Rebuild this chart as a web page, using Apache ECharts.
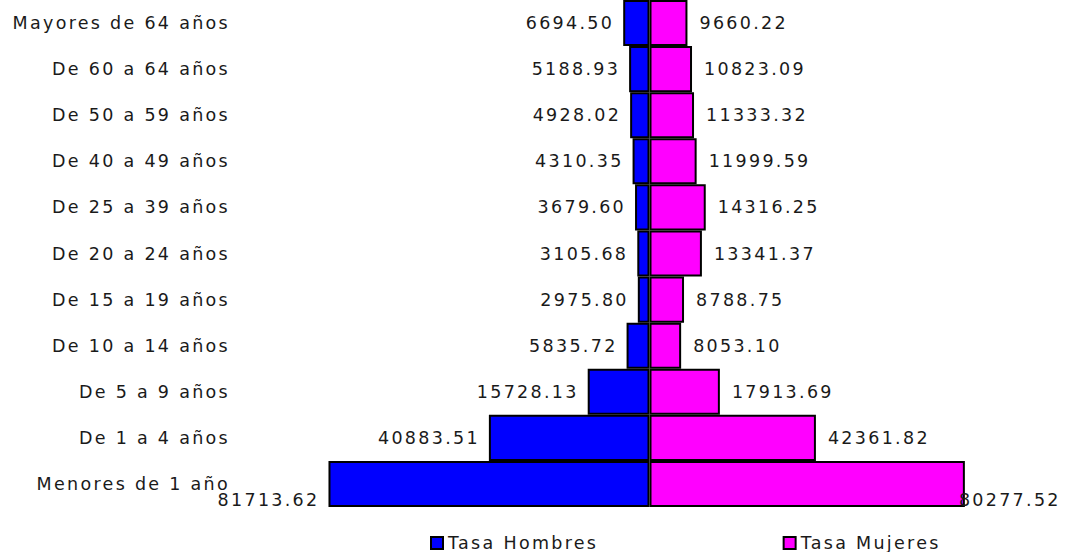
<!DOCTYPE html>
<html>
<head>
<meta charset="utf-8">
<script src="https://cdn.jsdelivr.net/npm/echarts@6/dist/echarts.min.js"></script>
<style>
  html, body { margin: 0; padding: 0; background: #fff; }
  #main { width: 1065px; height: 552px; }
  #main svg text { letter-spacing: 2.3px; }
</style>
</head>
<body>
<div id="main"></div>
<script>
// Categories listed bottom to top
var categories = ['Menores de 1 año', 'De 1 a 4 años', 'De 5 a 9 años', 'De 10 a 14 años',
  'De 15 a 19 años', 'De 20 a 24 años', 'De 25 a 39 años', 'De 40 a 49 años',
  'De 50 a 59 años', 'De 60 a 64 años', 'Mayores de 64 años'];
var tasaHombres = [81713.62, 40883.51, 15728.13, 5835.72, 2975.80, 3105.68, 3679.60,
  4310.35, 4928.02, 5188.93, 6694.50];
var tasaMujeres = [80277.52, 42361.82, 17913.69, 8053.10, 8788.75, 13341.37, 14316.25,
  11999.59, 11333.32, 10823.09, 9660.22];
var seriesNames = ['Tasa Hombres', 'Tasa Mujeres'];

var FONT = 'DejaVu Sans';
var TEXT = '#1a1a1a';
var FS = 17.5;

var menData = tasaHombres.map(function (v, i) {
  if (i === 0) return { value: -v, label: { offset: [0, 16] } };
  return -v;
});
var womenData = tasaMujeres.map(function (v, i) {
  if (i === 0) return { value: v, label: { distance: -6, offset: [0, 16] } };
  return v;
});

var chart = echarts.init(document.getElementById('main'), null, { renderer: 'svg' });
chart.setOption({
  animation: false,
  backgroundColor: '#ffffff',
  grid: { left: 237, right: 3, top: -3, bottom: 45, containLabel: false },
  xAxis: {
    type: 'value', min: -105000, max: 105000, show: false
  },
  yAxis: {
    type: 'category',
    data: categories,
    axisLine: { show: false, onZero: false },
    axisTick: { show: false },
    splitLine: { show: false },
    axisLabel: { margin: 7, color: TEXT, fontFamily: FONT, fontSize: FS }
  },
  legend: {
    left: 430, top: 534, padding: 0,
    itemWidth: 12, itemHeight: 12, itemGap: 212,
    icon: 'rect',
    textStyle: { color: TEXT, fontFamily: FONT, fontSize: FS, lineHeight: 16 },
    data: seriesNames
  },
  series: [
    {
      name: seriesNames[0], type: 'bar', stack: 'total',
      barCategoryGap: '0%',
      data: menData,
      itemStyle: { color: '#0000ff', borderColor: '#000000', borderWidth: 2 },
      label: {
        show: true, position: 'left', distance: 9,
        color: TEXT, fontFamily: FONT, fontSize: FS,
        formatter: function (p) { return Math.abs(p.value).toFixed(2); }
      }
    },
    {
      name: seriesNames[1], type: 'bar', stack: 'total',
      barCategoryGap: '0%',
      data: womenData,
      itemStyle: { color: '#ff00ff', borderColor: '#000000', borderWidth: 2 },
      label: {
        show: true, position: 'right', distance: 12,
        color: TEXT, fontFamily: FONT, fontSize: FS,
        formatter: function (p) { return Number(p.value).toFixed(2); }
      }
    }
  ]
});
</script>
</body>
</html>
